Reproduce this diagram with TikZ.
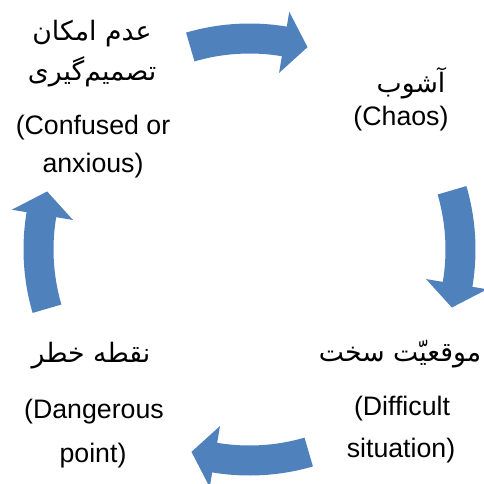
\documentclass[tikz,border=0pt]{standalone}
\usepackage{fontspec}
\setmainfont{Liberation Sans}
\newfontfamily\persianfont[Script=Arabic]{DejaVu Sans}
\TeXXeTstate=1
\usepackage{tikz}
\usetikzlibrary{positioning}
\definecolor{cycleblue}{RGB}{79,129,189}
\tikzset{
  en/.style={font=\fontsize{19}{22}\selectfont, inner sep=0pt},
  fa/.style={font=\persianfont\fontsize{19}{22}\selectfont, inner sep=0pt},
  blockarrow/.style={fill=cycleblue, draw=none}
}

\begin{document}
\begin{tikzpicture}[x=0.025cm,y=0.025cm]
\useasboundingbox (-249.5,-233.5) rectangle (234.5,249.5);
% four curved block arrows, clockwise
\foreach \r in {0,-90,-180,-270}{
  \fill[blockarrow, rotate=\r] (106.3:226) arc[start angle=106.3, end angle=80.5, radius=226]
    -- (80.5:241) -- (74:210.5) -- (80.5:179) -- (80.5:196)
    arc[start angle=80.5, end angle=106.3, radius=196] -- cycle;
}
% top left
\node[fa] (faA) at (-157.5,215.5) {\beginR عدم امکان\endR};
\node[fa] (faB) at (-157.5,177.5) {\beginR تصمیم‌گیری\endR};
\node[en] (enA) at (-156.5,121.5) {(Confused or};
\node[en] (enB) at (-156.5,83.5) {anxious)};
% top right
\node[fa] (faC) at (161.5,166.5) {\beginR آشوب\endR};
\node[en] (enC) at (151.5,130.5) {(Chaos)};
% bottom right
\node[fa] (faD) at (150.5,-104.5) {\beginR موقعیّت سخت\endR};
\node[en] (enD) at (152.5,-159.5) {(Difficult};
\node[en] (enE) at (151.5,-201.5) {situation)};
% bottom left
\node[fa] (faE) at (-158.5,-106.5) {\beginR نقطه خطر\endR};
\node[en] (enF) at (-155.5,-162.5) {(Dangerous};
\node[en] (enG) at (-156.5,-206.5) {point)};
\end{tikzpicture}
\end{document}
